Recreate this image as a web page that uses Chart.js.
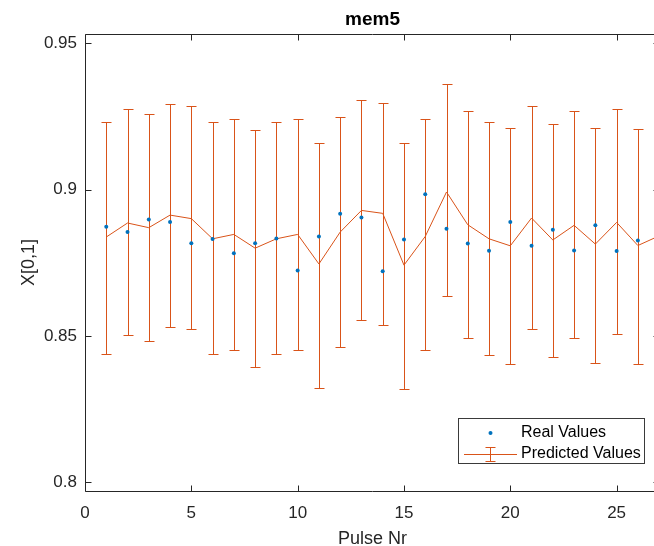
<!DOCTYPE html>
<html>
<head>
<meta charset="utf-8">
<title>mem5</title>
<script src="https://cdn.jsdelivr.net/npm/chart.js@4.4.1/dist/chart.umd.min.js"></script>
<style>
  html, body { margin: 0; padding: 0; background: #fff; overflow: hidden; }
  #wrap { width: 664px; height: 550px; }
</style>
</head>
<body>
<div id="wrap"><canvas id="chart" width="664" height="550"></canvas></div>
<script>
// ─── Data ─────────────────────────────────────────────────────────────────
const pulses = [1, 2, 3, 4, 5, 6, 7, 8, 9, 10, 11, 12, 13, 14, 15, 16, 17, 18, 19, 20, 21, 22, 23, 24, 25, 26, 27];

const realValues = [0.8873, 0.8855, 0.8898, 0.8889, 0.8817, 0.8831, 0.8783, 0.8817, 0.8833, 0.8724,
  0.8840, 0.8918, 0.8905, 0.8721, 0.8830, 0.8984, 0.8866, 0.8816, 0.8791, 0.8889,
  0.8808, 0.8863, 0.8792, 0.8878, 0.8790, 0.8826];

const predicted = [0.8838, 0.8886, 0.8870, 0.8913, 0.8901, 0.8832, 0.8847, 0.8800, 0.8832, 0.8847,
  0.8746, 0.8855, 0.8929, 0.8919, 0.8742, 0.8840, 0.8992, 0.8880, 0.8832, 0.8808,
  0.8903, 0.8828, 0.8878, 0.8814, 0.8888, 0.8809, 0.8842];

const upperBound = [0.9230, 0.9274, 0.9260, 0.9292, 0.9285, 0.9230, 0.9241, 0.9205, 0.9230, 0.9242,
  0.9158, 0.9249, 0.9307, 0.9297, 0.9158, 0.9242, 0.9360, 0.9268, 0.9230, 0.9212,
  0.9285, 0.9223, 0.9268, 0.9212, 0.9274, 0.9209, 0.9240];

const lowerBound = [0.8437, 0.8502, 0.8481, 0.8532, 0.8522, 0.8437, 0.8451, 0.8394, 0.8437, 0.8451,
  0.8323, 0.8463, 0.8555, 0.8539, 0.8320, 0.8451, 0.8635, 0.8493, 0.8434, 0.8404,
  0.8522, 0.8427, 0.8493, 0.8408, 0.8507, 0.8404, 0.8440];

const xTicks = [0, 5, 10, 15, 20, 25];
const yTicks = [0.8, 0.85, 0.9, 0.95];

// ─── Style ────────────────────────────────────────────────────────────────
const FONT = "'Liberation Sans', Arial, Helvetica, sans-serif";
const axisColor = '#262626';
const orange = '#D95319';
const blue = '#0072BD';
const capHalf = 5;
const tickLen = 6;

// error bars, inward ticks, box and legend, MATLAB style
const matlabFrame = {
  id: 'matlabFrame',
  beforeDatasetsDraw(chart) {
    const { ctx, scales: { x, y } } = chart;
    ctx.save();
    ctx.strokeStyle = orange;
    ctx.lineWidth = 1;
    pulses.forEach((p, i) => {
      const px = Math.round(x.getPixelForValue(p)) + 0.5;
      const top = Math.round(y.getPixelForValue(upperBound[i])) + 0.5;
      const bot = Math.round(y.getPixelForValue(lowerBound[i])) + 0.5;
      ctx.beginPath();
      ctx.moveTo(px, top); ctx.lineTo(px, bot);
      ctx.moveTo(px - capHalf, top); ctx.lineTo(px + capHalf, top);
      ctx.moveTo(px - capHalf, bot); ctx.lineTo(px + capHalf, bot);
      ctx.stroke();
    });
    ctx.restore();
  },
  afterDraw(chart) {
    const { ctx, chartArea: a, scales: { x, y } } = chart;
    const L = Math.round(a.left) + 0.5, R = Math.round(a.right) - 0.5;
    const T = Math.round(a.top) + 0.5, B = Math.round(a.bottom) + 0.5;
    ctx.save();
    ctx.strokeStyle = axisColor;
    ctx.lineWidth = 1;
    ctx.beginPath();
    ctx.rect(L, T, R - L, B - T);
    xTicks.forEach(v => {
      const px = Math.round(x.getPixelForValue(v)) + 0.5;
      ctx.moveTo(px, B); ctx.lineTo(px, B - tickLen);
      ctx.moveTo(px, T); ctx.lineTo(px, T + tickLen);
    });
    yTicks.forEach(v => {
      const py = Math.round(y.getPixelForValue(v)) + 0.5;
      ctx.moveTo(L, py); ctx.lineTo(L + tickLen, py);
      ctx.moveTo(R, py); ctx.lineTo(R - tickLen, py);
    });
    ctx.stroke();

    // legend
    const labels = chart.data.datasets.map(d => d.label);
    const bx = 458.5, by = 418.5, bw = 186, bh = 45;
    ctx.fillStyle = '#fff';
    ctx.fillRect(bx, by, bw, bh);
    ctx.strokeStyle = '#3a3a3a';
    ctx.strokeRect(bx, by, bw, bh);

    ctx.fillStyle = blue;
    ctx.beginPath();
    ctx.arc(490.5, 433, 2, 0, Math.PI * 2);
    ctx.fill();

    ctx.strokeStyle = orange;
    ctx.beginPath();
    ctx.moveTo(464, 454.5); ctx.lineTo(517, 454.5);
    ctx.moveTo(490.5, 447); ctx.lineTo(490.5, 462);
    ctx.moveTo(485.5, 447.5); ctx.lineTo(495.5, 447.5);
    ctx.moveTo(485.5, 461.5); ctx.lineTo(495.5, 461.5);
    ctx.stroke();

    ctx.fillStyle = '#000';
    ctx.font = '16px ' + FONT;
    ctx.textBaseline = 'middle';
    ctx.textAlign = 'left';
    ctx.fillText(labels[0], 521, 433);
    ctx.fillText(labels[1], 521, 454);
    ctx.restore();
  }
};

new Chart(document.getElementById('chart'), {
  type: 'line',
  data: {
    datasets: [
      {
        label: 'Real Values',
        data: realValues.map((v, i) => ({ x: pulses[i], y: v })),
        showLine: false,
        pointRadius: 2,
        pointBorderWidth: 0,
        pointBackgroundColor: blue,
        borderColor: blue,
      },
      {
        label: 'Predicted Values',
        data: predicted.map((v, i) => ({ x: pulses[i], y: v })),
        borderColor: orange,
        borderWidth: 1,
        pointRadius: 0,
        tension: 0,
        fill: false,
      },
    ],
  },
  options: {
    responsive: false,
    animation: false,
    layout: { padding: { left: 0, right: 0, top: 0, bottom: 0 } },
    plugins: {
      legend: { display: false },
      tooltip: { enabled: false },
      title: {
        display: true,
        text: 'mem5',
        fullSize: false,
        color: '#000',
        font: { family: FONT, size: 19, weight: 'bold' },
        padding: { top: 8.6, bottom: 2.6 },
      },
    },
    scales: {
      x: {
        type: 'linear',
        min: 0,
        max: 27.04,
        grid: { display: false, tickLength: 0 },
        border: { display: false },
        afterBuildTicks: s => { s.ticks = xTicks.map(v => ({ value: v })); },
        afterFit: s => { s.height = 59; },
        ticks: {
          color: axisColor,
          font: { family: FONT, size: 17 },
          padding: 12,
          maxRotation: 0,
        },
        title: {
          display: true,
          text: 'Pulse Nr',
          color: axisColor,
          font: { family: FONT, size: 18 },
          padding: { top: 0, bottom: 0 },
        },
      },
      y: {
        type: 'linear',
        min: 0.797,
        max: 0.9532,
        grid: { display: false, tickLength: 0 },
        border: { display: false },
        afterBuildTicks: s => { s.ticks = yTicks.map(v => ({ value: v })); },
        afterFit: s => { s.width = 85; },
        ticks: {
          color: axisColor,
          font: { family: FONT, size: 17 },
          padding: 8,
          callback: v => String(+v.toFixed(2)),
        },
        title: {
          display: true,
          text: 'X[0,1]',
          color: axisColor,
          font: { family: FONT, size: 18 },
          padding: { top: 18, bottom: 0 },
        },
      },
    },
  },
  plugins: [matlabFrame],
});
</script>
</body>
</html>
